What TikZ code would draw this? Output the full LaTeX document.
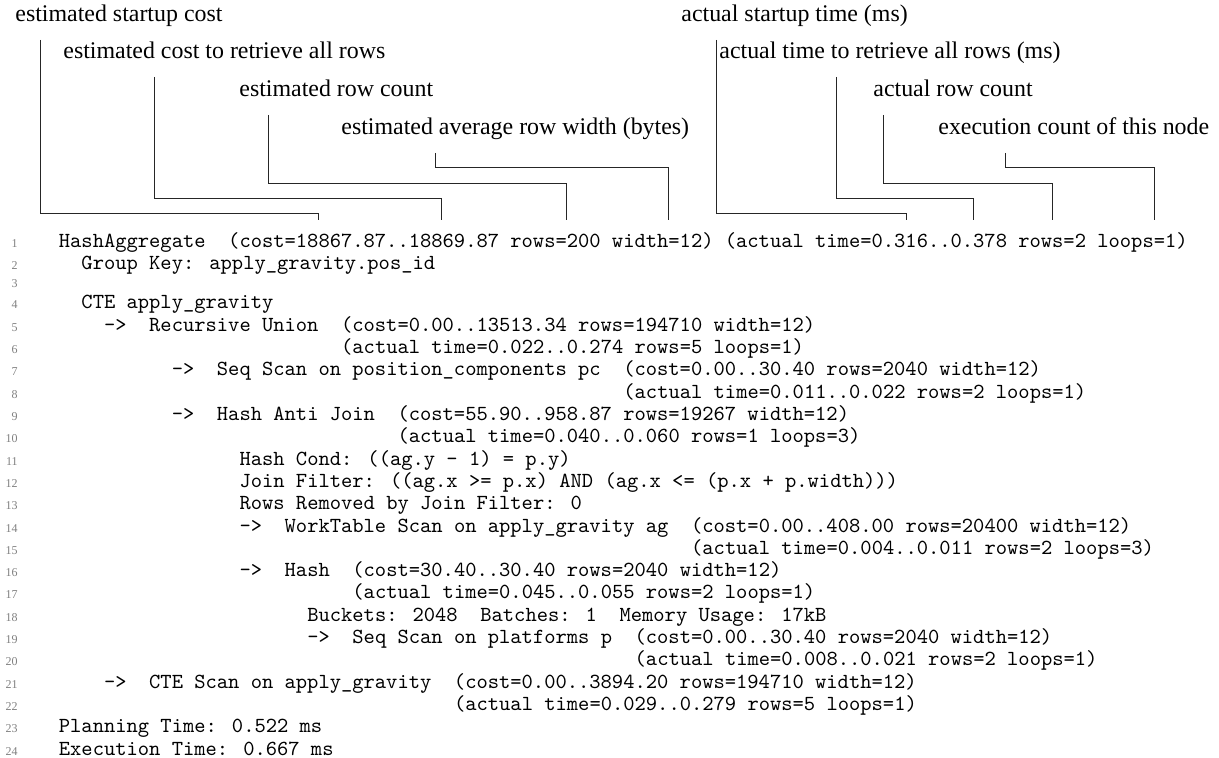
\documentclass[tikz,border=0pt]{standalone}
\usepackage{fontspec}
\setmainfont{Liberation Serif}
\newcommand{\cx}[1]{58.5+#1*11.29}
\begin{document}
\begin{tikzpicture}[x=0.5pt,y=-0.5pt,
  lbl/.style={anchor=base west,inner sep=0pt,font=\fontsize{11.95}{14}\selectfont},
  code/.style={anchor=base west,inner sep=0pt,font=\fontsize{10.75}{12}\selectfont\ttfamily},
  lno/.style={anchor=base east,inner sep=0pt,text=black!50,font=\fontsize{6}{7}\selectfont},
  conn/.style={draw=black!85,line width=0.4pt,line join=miter}]
\useasboundingbox (0,0) rectangle (1219,758);

% ---- labels ----
\node[lbl] (L1) at (15,22)  {estimated startup cost};
\node[lbl] (L2) at (63,59)  {estimated cost to retrieve all rows};
\node[lbl] (L3) at (239,97) {estimated row count};
\node[lbl] (L4) at (341,135) {estimated average row width (bytes)};
\node[lbl] (R1) at (681,22)  {actual startup time (ms)};
\node[lbl] (R2) at (719,59)  {actual time to retrieve all rows (ms)};
\node[lbl] (R3) at (873,97)  {actual row count};
\node[lbl] (R4) at (938,135) {execution count of this node};

% ---- connector points ----
\coordinate (a1) at (40,40);   \coordinate (b1) at (318,213);  \coordinate (t1) at (318,220);
\coordinate (a2) at (154,77);  \coordinate (b2) at (441,198);  \coordinate (t2) at (441,220);
\coordinate (a3) at (268,115); \coordinate (b3) at (566,183);  \coordinate (t3) at (566,220);
\coordinate (a4) at (435,153); \coordinate (b4) at (668,167);  \coordinate (t4) at (668,220);
\coordinate (a5) at (716,40);  \coordinate (b5) at (906,213);  \coordinate (t5) at (906,220);
\coordinate (a6) at (836,77);  \coordinate (b6) at (973,198);  \coordinate (t6) at (973,220);
\coordinate (a7) at (883,115); \coordinate (b7) at (1052,183); \coordinate (t7) at (1052,220);
\coordinate (a8) at (1005,153);\coordinate (b8) at (1154,167); \coordinate (t8) at (1154,220);
\foreach \i in {1,...,8} {\draw[conn] (a\i) |- (b\i) -- (t\i);}

% ---- code ----
\node[code] (c1) at ({\cx{0}},248) {HashAggregate~~(cost=18867.87..18869.87 rows=200 width=12) (actual time=0.316..0.378 rows=2 loops=1)};
\node[code] (c2) at ({\cx{2}},270) {Group Key: apply\_gravity.pos\_id};
\node[code] (c4) at ({\cx{2}},309) {CTE apply\_gravity};
\node[code] (c5) at ({\cx{4}},331.3) {->~~Recursive Union~~(cost=0.00..13513.34 rows=194710 width=12)};
\node[code] (c6) at ({\cx{25}},353.6) {(actual time=0.022..0.274 rows=5 loops=1)};
\node[code] (c7) at ({\cx{10}},375.9) {->~~Seq Scan on position\_components pc~~(cost=0.00..30.40 rows=2040 width=12)};
\node[code] (c8) at ({\cx{50}},398.2) {(actual time=0.011..0.022 rows=2 loops=1)};
\node[code] (c9) at ({\cx{10}},420.5) {->~~Hash Anti Join~~(cost=55.90..958.87 rows=19267 width=12)};
\node[code] (c10) at ({\cx{30}},442.8) {(actual time=0.040..0.060 rows=1 loops=3)};
\node[code] (c11) at ({\cx{16}},465.1) {Hash Cond: ((ag.y - 1) = p.y)};
\node[code] (c12) at ({\cx{16}},487.4) {Join Filter: ((ag.x >= p.x) AND (ag.x <= (p.x + p.width)))};
\node[code] (c13) at ({\cx{16}},509.7) {Rows Removed by Join Filter: 0};
\node[code] (c14) at ({\cx{16}},532) {->~~WorkTable Scan on apply\_gravity ag~~(cost=0.00..408.00 rows=20400 width=12)};
\node[code] (c15) at ({\cx{56}},554.3) {(actual time=0.004..0.011 rows=2 loops=3)};
\node[code] (c16) at ({\cx{16}},576.6) {->~~Hash~~(cost=30.40..30.40 rows=2040 width=12)};
\node[code] (c17) at ({\cx{26}},598.9) {(actual time=0.045..0.055 rows=2 loops=1)};
\node[code] (c18) at ({\cx{22}},621.2) {Buckets: 2048~~Batches: 1~~Memory Usage: 17kB};
\node[code] (c19) at ({\cx{22}},643.5) {->~~Seq Scan on platforms p~~(cost=0.00..30.40 rows=2040 width=12)};
\node[code] (c20) at ({\cx{51}},665.8) {(actual time=0.008..0.021 rows=2 loops=1)};
\node[code] (c21) at ({\cx{4}},688.1) {->~~CTE Scan on apply\_gravity~~(cost=0.00..3894.20 rows=194710 width=12)};
\node[code] (c22) at ({\cx{35}},710.4) {(actual time=0.029..0.279 rows=5 loops=1)};
\node[code] (c23) at ({\cx{0}},732.7) {Planning Time: 0.522 ms};
\node[code] (c24) at ({\cx{0}},755) {Execution Time: 0.667 ms};

% ---- line numbers ----
\foreach \n/\y in {1/248,2/270,3/288,4/309,5/331.3,6/353.6,7/375.9,8/398.2,9/420.5,10/442.8,11/465.1,12/487.4,13/509.7,14/532,15/554.3,16/576.6,17/598.9,18/621.2,19/643.5,20/665.8,21/688.1,22/710.4,23/732.7,24/755}
  {\node[lno] (n\n) at (18,\y) {\n};}
\end{tikzpicture}
\end{document}
